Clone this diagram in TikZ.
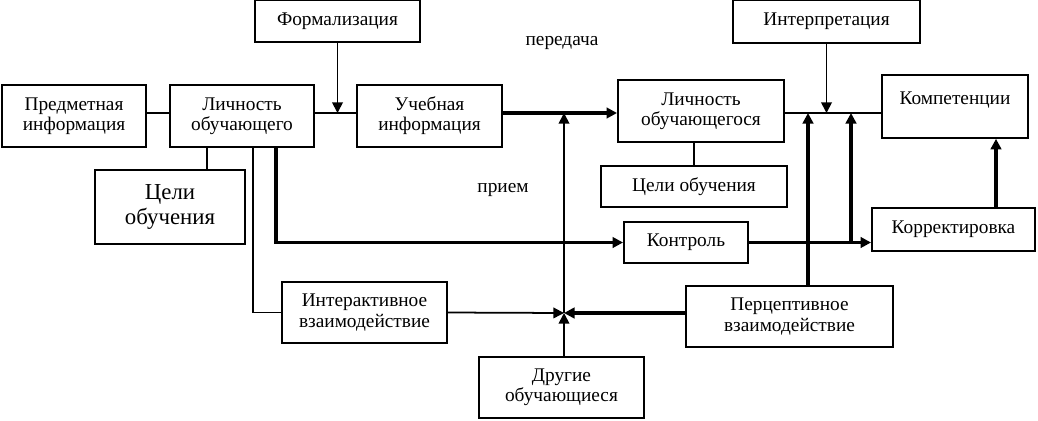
\documentclass[tikz,border=0pt]{standalone}
\usepackage{fontspec}
\setmainfont{Liberation Serif}
\usetikzlibrary{arrows.meta}

\begin{document}
\begin{tikzpicture}[x=0.02cm,y=-0.02cm,
        >={Triangle[length=6pt,width=6pt]},
        box/.style={draw,line width=1.1pt,inner sep=0pt,align=center,
            font=\fontsize{11}{11.5}\selectfont},
        txt/.style={font=\fontsize{11}{11.5}\selectfont},
        thn/.style={line width=1pt},
        thk/.style={line width=1.9pt}]
    \useasboundingbox (0,0) rectangle (1038,420);
    \node[box,minimum width=3.3cm,minimum height=0.84cm] (formal) at (337.5,21) {Формализация};
    \node[box,minimum width=2.88cm,minimum height=1.24cm] (subj) at (74,116) {Предметная\\информация};
    \node[box,minimum width=2.88cm,minimum height=1.24cm] (teacher) at (242,116) {Личность\\обучающего};
    \node[box,minimum width=2.9cm,minimum height=1.24cm] (edu) at (429.5,116) {Учебная\\информация};
    \node[box,minimum width=3cm,minimum height=1.48cm,font=\fontsize{13}{14}\selectfont] (goalsL) at (170,207) {Цели\\обучения};
    \node[box,minimum width=3.74cm,minimum height=0.86cm] (interp) at (826.5,21.5) {Интерпретация};
    \node[box,minimum width=3.32cm,minimum height=1.24cm] (student) at (701,111) {Личность\\обучающегося};
    \node[box,minimum width=2.92cm,text height=16.7pt,text depth=19pt] (comp) at (955,106.5) {Компетенции};
    \node[box,minimum width=3.72cm,minimum height=0.82cm] (goalsR) at (694,186.5) {Цели обучения};
    \node[box,minimum width=2.48cm,minimum height=0.82cm] (control) at (686,242.5) {Контроль};
    \node[box,minimum width=3.26cm,minimum height=0.86cm] (correct) at (953.5,229.5) {Корректировка};
    \node[box,minimum width=3.3cm,minimum height=1.22cm] (inter) at (364.5,312.5) {Интерактивное\\взаимодействие};
    \node[box,minimum width=4.14cm,minimum height=1.22cm] (percep) at (789.5,316.5) {Перцептивное\\взаимодействие};
    \node[box,minimum width=3.3cm,minimum height=1.22cm] (others) at (561.5,387.5) {Другие\\обучающиеся};
    \node[txt] (send) at (562,43) {передача};
    \node[txt] (recv) at (503,190) {прием};
    \coordinate (lvl) at (0,113);
    \coordinate (hub) at (564,313);
    \coordinate (tg) at (207,147);
    \coordinate (ti) at (253,147);
    \coordinate (tc) at (276,147);
    \coordinate (up1) at (808,113);
    \coordinate (up2) at (851,113);
    \coordinate (ku) at (996,208);
    \draw[thn] (subj.east |- lvl) -- (teacher.west |- lvl);
    \draw[thn] (teacher.east |- lvl) -- (edu.west |- lvl);
    \draw[thn,->] (formal.south) -- (formal.south |- lvl);
    \draw[thk,->] (edu.east |- lvl) -- (student.west |- lvl);
    \draw[thn] (student.east |- lvl) -- (comp.west |- lvl);
    \draw[thn,->] (interp.south) -- (interp.south |- lvl);
    \draw[thk,->] (percep.north -| up1) -- (up1);
    \draw[thk,->] (control.east -| up2) -- (up2);
    \draw[thk,->] (control.east) -- (correct.west |- control.east);
    \draw[thk,->] (ku) -- (ku |- comp.south);
    \draw[thn] (goalsR.north) -- (goalsR.north |- student.south);
    \draw[thn] (tg) -- (tg |- goalsL.north);
    \draw[thn] (ti) |- (inter.west);
    \draw[thk,->] (tc) |- (control.west);
    \draw[thn,->] (inter.east) -- (hub);
    \draw[thk,->] (percep.west |- hub) -- (hub);
    \draw[thn,->] (others.north -| hub) -- (hub);
    \draw[thn,->] (hub) -- (hub |- lvl);
\end{tikzpicture}
\end{document}
